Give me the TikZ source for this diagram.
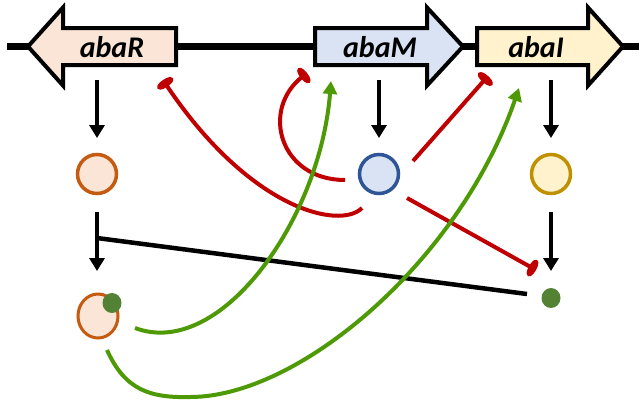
\documentclass[tikz,border=0pt]{standalone}
\usepackage{fontspec}
\setmainfont{Carlito}
\usetikzlibrary{arrows.meta,shapes.geometric}
\definecolor{redI}{HTML}{C00000}
\definecolor{greenA}{HTML}{4E9A06}
\definecolor{dotG}{HTML}{548235}
\definecolor{fillR}{HTML}{FBE5D6}
\definecolor{lineR}{HTML}{C55A11}
\definecolor{fillM}{HTML}{DAE3F3}
\definecolor{lineM}{HTML}{2F5597}
\definecolor{fillI}{HTML}{FFF2CC}
\definecolor{lineI}{HTML}{BF9000}
\tikzset{
  gene/.style={draw=black, line width=4pt, miter limit=10},
  genetext/.style={font=\fontsize{30}{30}\selectfont\bfseries\itshape, inner sep=0pt},
  prot/.style={circle, minimum size=39pt, inner sep=0pt, line width=3.5pt},
  blk/.style={draw=black, line width=4.5pt, -{Triangle[width=15pt,length=13pt]}},
  inh/.style={draw=redI, line width=4pt, -{Ellipse[length=8pt,width=18pt]}},
  act/.style={draw=greenA, line width=4pt, -{Triangle[width=14pt,length=13pt]}},
  gdot/.style={ellipse, fill=dotG, inner sep=0pt, minimum width=19pt, minimum height=20pt}
}
\begin{document}
\begin{tikzpicture}[x=1pt,y=-1pt]
\useasboundingbox (0,0) rectangle (639,400);
% backbone
\draw[line width=7pt] (7,46.5) -- (639,46.5);
% genes
\draw[gene, fill=fillR] (176,28) -- (63,28) -- (63,7.5) -- (28,46.5) -- (63,85.5) -- (63,65) -- (176,65) -- cycle;
\draw[gene, fill=fillM] (315,28) -- (427,28) -- (427,7.5) -- (463,46.5) -- (427,85.5) -- (427,65) -- (315,65) -- cycle;
\draw[gene, fill=fillI] (477,28) -- (588,28) -- (588,7.5) -- (623,46.5) -- (588,85.5) -- (588,65) -- (477,65) -- cycle;
\node[genetext] (geneR) at (112,47) {abaR};
\node[genetext] (geneM) at (380,47) {abaM};
\node[genetext] (geneI) at (536,47) {abaI};
% proteins
\node[prot, draw=lineR, fill=fillR] (pR) at (97,174) {};
\node[prot, draw=lineM, fill=fillM] (pM) at (379,174) {};
\node[prot, draw=lineI, fill=fillI] (pI) at (551,174) {};
\node[draw=lineR, fill=fillR, ellipse, line width=3pt, minimum width=40pt, minimum height=44pt, inner sep=0pt] (pRa) at (98,316) {};
\node[gdot] (dot1) at (112,303) {};
\node[gdot] (dot2) at (551,298) {};
% named free ends
\coordinate (gR) at (97,80);
\coordinate (gM) at (379,80);
\coordinate (gI) at (551,80);
\coordinate (tR) at (97,138);
\coordinate (tM) at (379,138);
\coordinate (tI) at (551,138);
\coordinate (sR) at (97,212);
\coordinate (eR) at (97,271);
\coordinate (sI) at (551,212);
\coordinate (eI) at (551,271);
\coordinate (join) at (97,238);
\coordinate (lineEnd) at (527,294);
% translation arrows
\draw[blk] (gR) -- (tR);
\draw[blk] (gM) -- (tM);
\draw[blk] (gI) -- (tI);
\draw[blk] (sR) -- (eR);
\draw[blk] (sI) -- (eI);
% black inhibition line
\draw[line width=4.5pt] (lineEnd) -- (join);
% red inhibitions
\coordinate (r1s) at (362,208);
\coordinate (r1e) at (163,80);
\coordinate (r2s) at (345,180);
\coordinate (r2e) at (307,73);
\coordinate (r3s) at (413,161);
\coordinate (r3e) at (488,76);
\coordinate (r4s) at (407,198);
\coordinate (r4e) at (536,270);
\draw[inh] (r1s) .. controls (340,230) and (250,210) .. (r1e);
\draw[inh] (r2s) .. controls (280,180) and (260,110) .. (r2e);
\draw[inh] (r3s) -- (r3e);
\draw[inh] (r4s) -- (r4e);
% green activations
\coordinate (g1s) at (135,328);
\coordinate (g1e) at (331,81);
\coordinate (g2s) at (107,350);
\coordinate (g2e) at (519,88);
\draw[act] (g1s) .. controls (220,360) and (320,220) .. (g1e);
\draw[act] (g2s) .. controls (125,390) and (150,398) .. (190,397) .. controls (300,397) and (460,260) .. (g2e);
\end{tikzpicture}
\end{document}
